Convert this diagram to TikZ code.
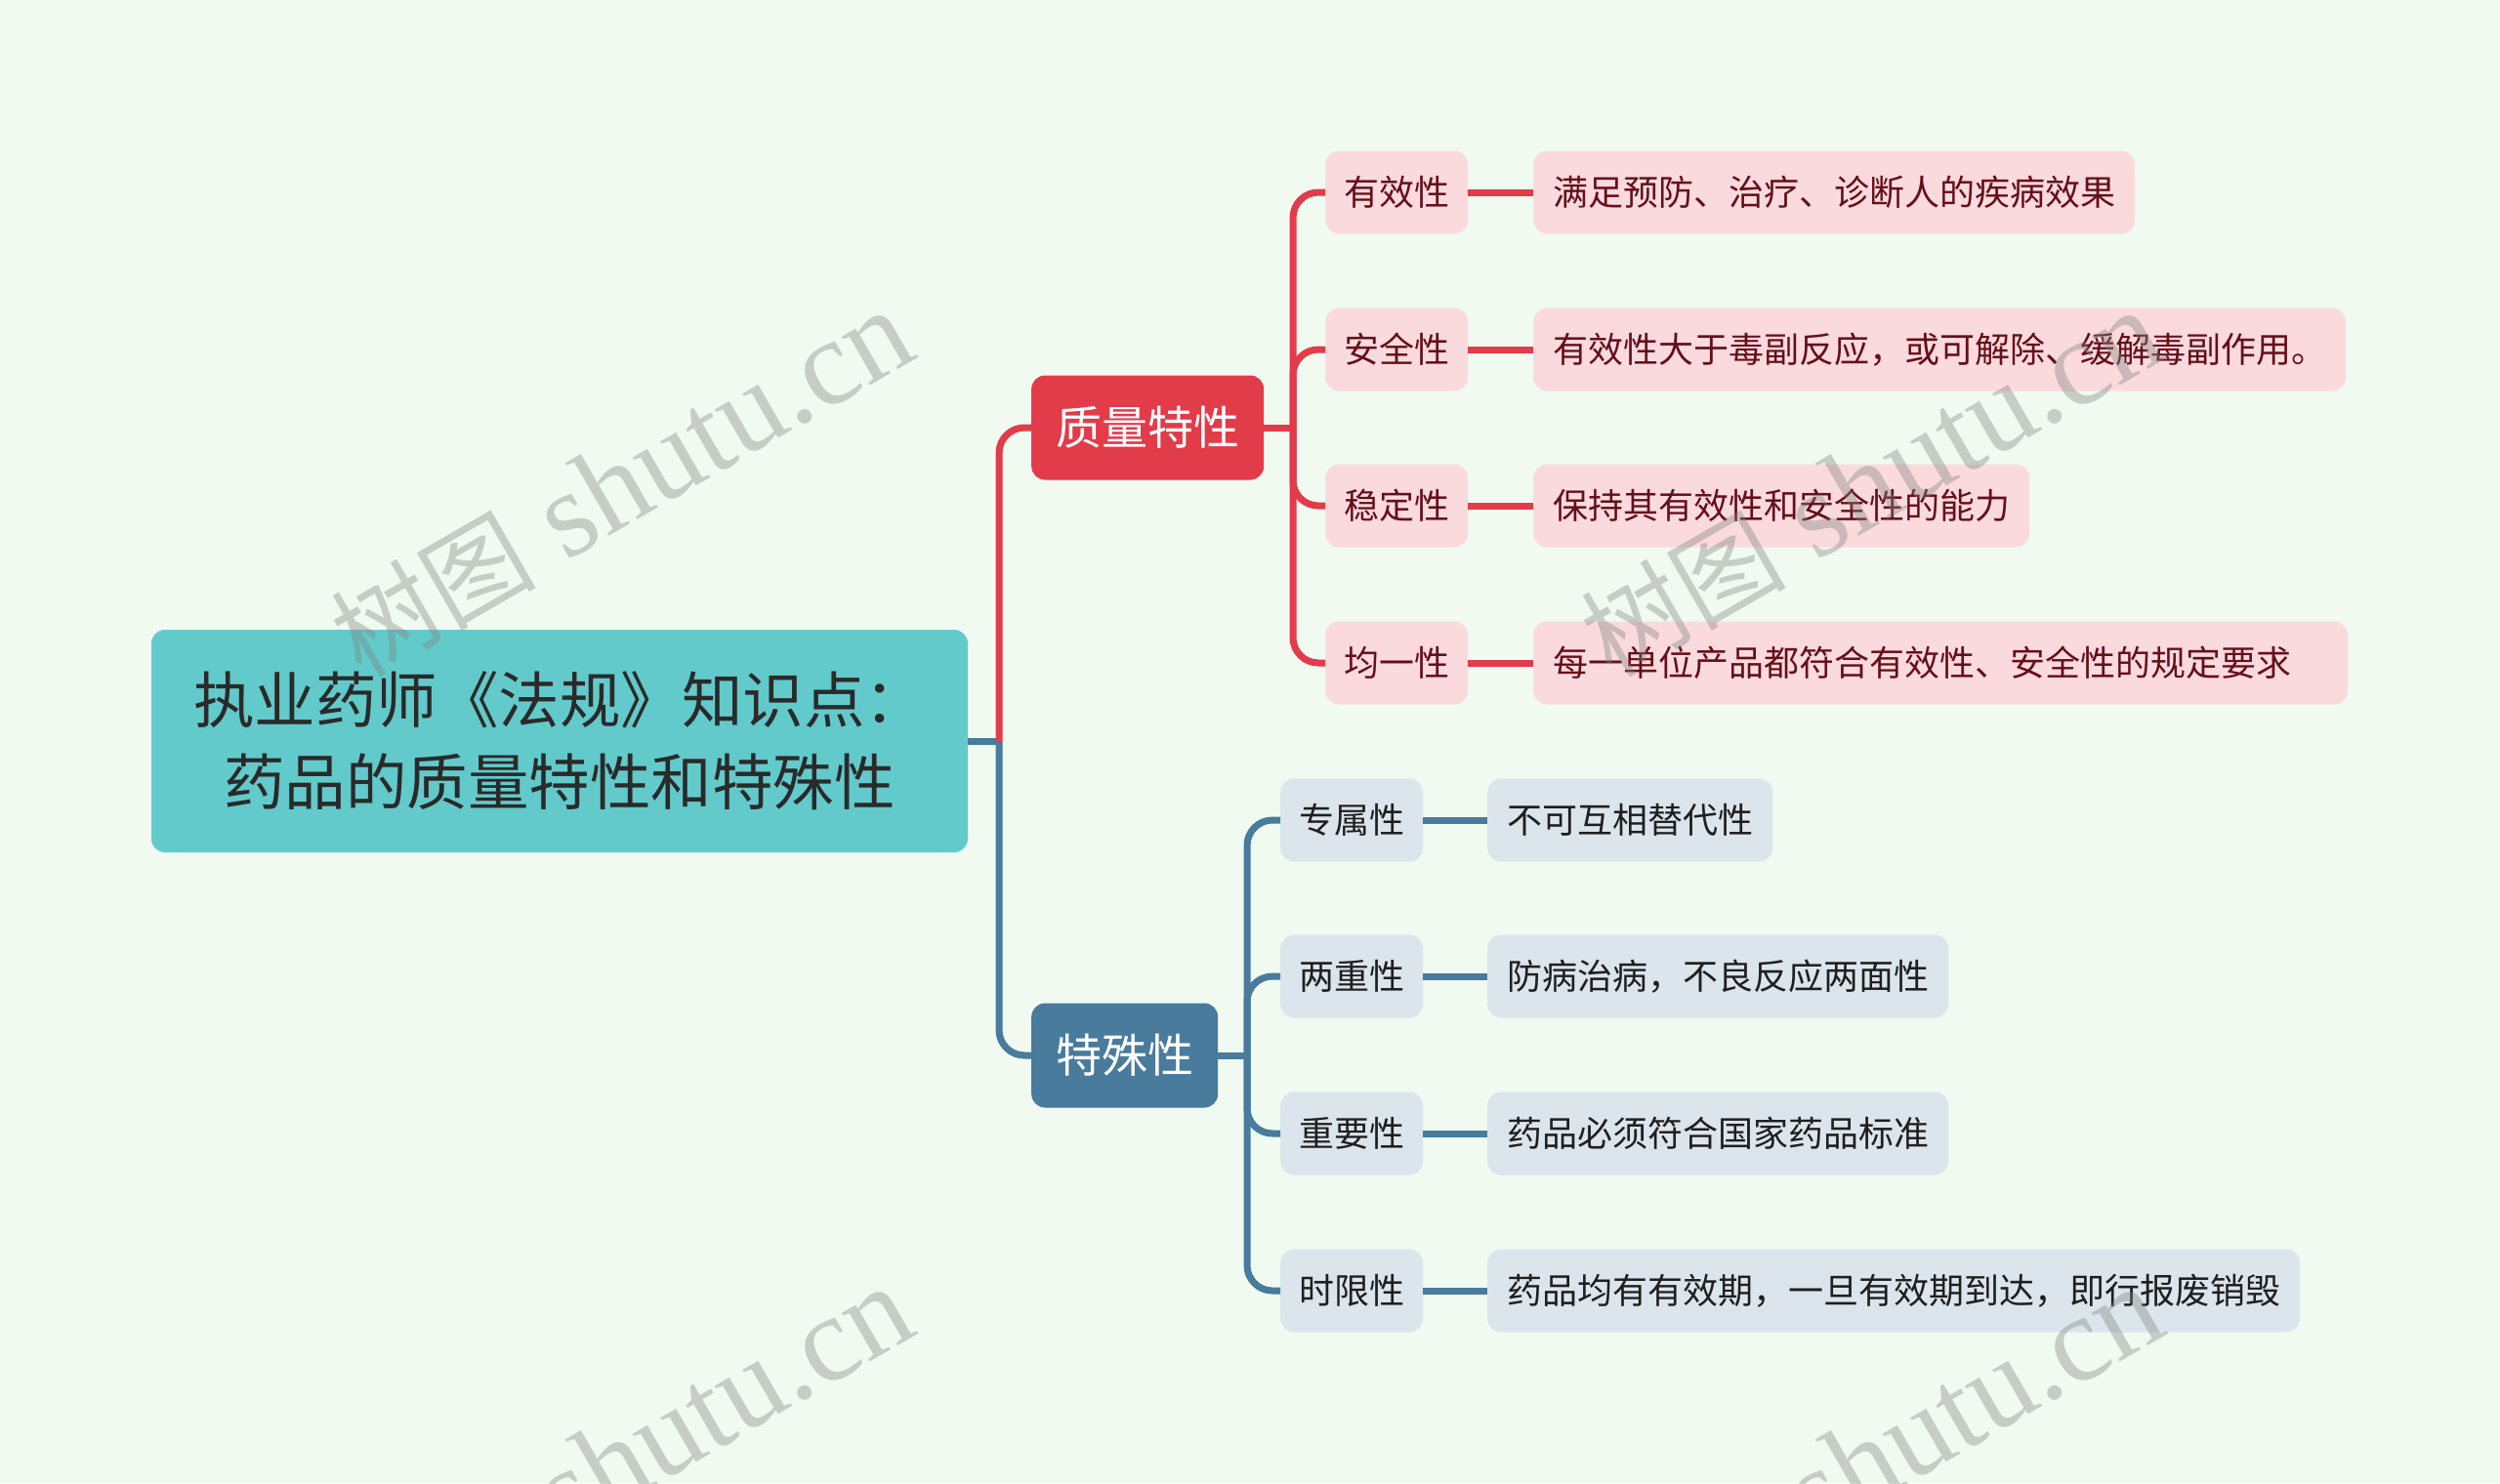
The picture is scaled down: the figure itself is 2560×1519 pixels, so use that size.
\documentclass[tikz,border=0pt]{standalone}
\usepackage{fontspec}
\setmainfont{Noto Sans CJK SC}
\newfontfamily\wmcjk{Noto Sans CJK SC}
\newfontfamily\wmlat{Liberation Serif}
\definecolor{bgc}{HTML}{F0FAF0}
\definecolor{rootc}{HTML}{63CACB}
\definecolor{roottext}{HTML}{2A2A2A}
\definecolor{redc}{HTML}{E23B4A}
\definecolor{bluec}{HTML}{487B9C}
\definecolor{pinkc}{HTML}{FBDADE}
\definecolor{pinktext}{HTML}{650F1A}
\definecolor{lbluec}{HTML}{DCE5EC}
\definecolor{lbluetext}{HTML}{1F1F1F}
\definecolor{wmc}{HTML}{7F857F}
\begin{document}
\begin{tikzpicture}[x=1pt,y=-1pt,
  rootbox/.style={fill=rootc, rounded corners=14pt, minimum width=836pt, minimum height=228pt, inner sep=0pt, align=center, font=\fontsize{62.5}{84}\selectfont, text=roottext},
  lonebox/.style={rounded corners=14pt, minimum height=107pt, inner xsep=25pt, inner ysep=0pt, font=\fontsize{47}{56}\selectfont, text=white},
  midbox/.style={rounded corners=14pt, minimum height=85pt, inner xsep=19pt, inner ysep=0pt, font=\fontsize{36}{44}\selectfont},
  leafbox/.style={midbox, inner xsep=20pt},
  redmid/.style={midbox, fill=pinkc, text=pinktext},
  redleaf/.style={leafbox, fill=pinkc, text=pinktext},
  bluemid/.style={midbox, fill=lbluec, text=lbluetext},
  blueleaf/.style={leafbox, fill=lbluec, text=lbluetext},
  redline/.style={draw=redc, line width=7pt},
  blueline/.style={draw=bluec, line width=7pt},
  wm/.style={text=wmc, opacity=0.38, font=\fontsize{125}{125}\selectfont\wmlat, inner sep=0pt, rotate=30, anchor=base east}
]
\useasboundingbox (0,0) rectangle (2560,1519);
\fill[bgc] (0,0) rectangle (2560,1519);

% root
\node[rootbox] (root) at (573,759) {执业药师《法规》知识点：\\药品的质量特性和特殊性};

% level 1
\node[lonebox, fill=redc, anchor=west] (q) at (1056,438) {质量特性};
\node[lonebox, fill=bluec, anchor=west] (s) at (1056,1081) {特殊性};

% red children
\node[redmid, anchor=west] (q1) at (1357,197) {有效性};
\node[redmid, anchor=west] (q2) at (1357,358) {安全性};
\node[redmid, anchor=west] (q3) at (1357,518) {稳定性};
\node[redmid, anchor=west] (q4) at (1357,679) {均一性};

\node[redleaf, anchor=west] (q1l) at (1570,197) {满足预防、治疗、诊断人的疾病效果};
\node[redleaf, anchor=west] (q2l) at (1570,358) {有效性大于毒副反应，或可解除、缓解毒副作用。};
\node[redleaf, anchor=west] (q3l) at (1570,518) {保持其有效性和安全性的能力};
\node[redleaf, anchor=west, text width=794pt, align=left] (q4l) at (1570,679) {每一单位产品都符合有效性、安全性的规定要求};

% blue children
\node[bluemid, anchor=west] (s1) at (1311,840) {专属性};
\node[bluemid, anchor=west] (s2) at (1311,1000) {两重性};
\node[bluemid, anchor=west] (s3) at (1311,1161) {重要性};
\node[bluemid, anchor=west] (s4) at (1311,1322) {时限性};

\node[blueleaf, anchor=west] (s1l) at (1523,840) {不可互相替代性};
\node[blueleaf, anchor=west] (s2l) at (1523,1000) {防病治病，不良反应两面性};
\node[blueleaf, anchor=west] (s3l) at (1523,1161) {药品必须符合国家药品标准};
\node[blueleaf, anchor=west] (s4l) at (1523,1322) {药品均有有效期，一旦有效期到达，即行报废销毁};

% junction coordinates
\coordinate (rj) at (1023,759);
\coordinate (qj) at (1324,438);
\coordinate (sj) at (1277,1081);

% root connectors
\draw[blueline] (root.east) -- (rj);
\draw[redline, rounded corners=26pt] (rj) |- (q.west);
\draw[blueline, rounded corners=26pt] (rj) |- (s.west);

% red group
\draw[redline] (q.east) -- (qj);
\foreach \c in {q1,q2,q3,q4}{
  \draw[redline, rounded corners=26pt] (qj) |- (\c.west);
  \draw[redline] (\c.east) -- (\c l.west);
}

% blue group
\draw[blueline] (s.east) -- (sj);
\foreach \c in {s1,s2,s3,s4}{
  \draw[blueline, rounded corners=26pt] (sj) |- (\c.west);
  \draw[blueline] (\c.east) -- (\c l.west);
}

% watermarks
\node[wm] (wm1) at (943,365) {{\wmcjk\fontsize{105}{105}\selectfont 树图} shutu.cn};
\node[wm] (wm2) at (2223,365) {{\wmcjk\fontsize{105}{105}\selectfont 树图} shutu.cn};
\node[wm] (wm3) at (943,1365) {{\wmcjk\fontsize{105}{105}\selectfont 树图} shutu.cn};
\node[wm] (wm4) at (2223,1365) {{\wmcjk\fontsize{105}{105}\selectfont 树图} shutu.cn};
\end{tikzpicture}
\end{document}
